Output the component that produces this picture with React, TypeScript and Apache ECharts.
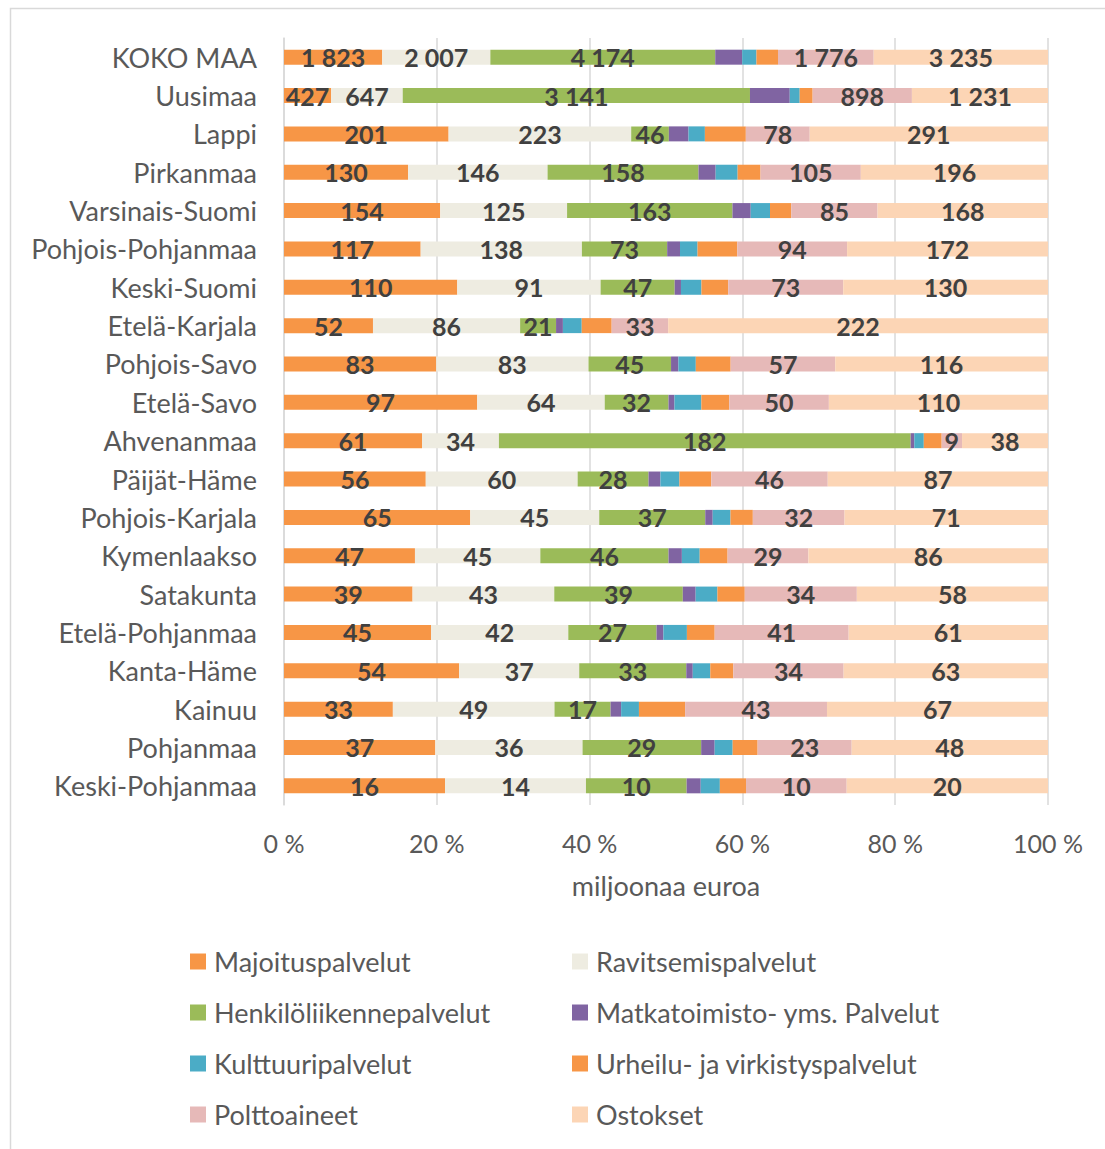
import React, { useEffect, useRef } from "react";
import * as echarts from "echarts";

const categories = [
  "KOKO MAA", "Uusimaa", "Lappi", "Pirkanmaa", "Varsinais-Suomi", "Pohjois-Pohjanmaa",
  "Keski-Suomi", "Etelä-Karjala", "Pohjois-Savo", "Etelä-Savo", "Ahvenanmaa", "Päijät-Häme",
  "Pohjois-Karjala", "Kymenlaakso", "Satakunta", "Etelä-Pohjanmaa", "Kanta-Häme", "Kainuu",
  "Pohjanmaa", "Keski-Pohjanmaa",
];

const seriesNames = [
  "Majoituspalvelut", "Ravitsemispalvelut", "Henkilöliikennepalvelut", "Matkatoimisto- yms. Palvelut",
  "Kulttuuripalvelut", "Urheilu- ja virkistyspalvelut", "Polttoaineet", "Ostokset",
];

const majoitus = [1823, 427, 201, 130, 154, 117, 110, 52, 83, 97, 61, 56, 65, 47, 39, 45, 54, 33, 37, 16];
const ravitsemis = [2007, 647, 223, 146, 125, 138, 91, 86, 83, 64, 34, 60, 45, 45, 43, 42, 37, 49, 36, 14];
const henkiloliikenne = [4174, 3141, 46, 158, 163, 73, 47, 21, 45, 32, 182, 28, 37, 46, 39, 27, 33, 17, 29, 10];
const matkatoimisto = [500, 360, 24, 18, 18, 11, 4, 4, 4, 3, 1.6, 4.7, 2.6, 4.8, 3.9, 2.1, 2.0, 3.2, 3.3, 1.4];
const kulttuuri = [265, 90, 20, 23, 19, 15, 13, 11, 9.5, 13.5, 4.2, 7.5, 6.2, 6.4, 6.6, 7.2, 5.4, 5.4, 4.4, 1.9];
const urheilu = [400, 117, 50, 24, 21, 34, 17, 17.5, 19, 14, 7.9, 12.6, 7.8, 10, 8.3, 8.5, 7.1, 14, 6.1, 2.6];
const polttoaineet = [1776, 898, 78, 105, 85, 94, 73, 33, 57, 50, 9, 46, 32, 29, 34, 41, 34, 43, 23, 10];
const ostokset = [3235, 1231, 291, 196, 168, 172, 130, 222, 116, 110, 38, 87, 71, 86, 58, 61, 63, 67, 48, 20];

const xTicks = [0, 20, 40, 60, 80, 100];

const allSeries = [majoitus, ravitsemis, henkiloliikenne, matkatoimisto, kulttuuri, urheilu, polttoaineet, ostokset];
const colors = ["#F79646", "#EEECE1", "#9BBB59", "#8064A2", "#4BACC6", "#F79646", "#E6B9B8", "#FCD5B5"];
const labelled = [true, true, true, false, false, false, true, true];

const FONT = "Lato, 'Open Sans', sans-serif";

function fmt(v: number): string {
  const s = String(Math.round(v));
  return s.replace(/\B(?=(\d{3})+(?!\d))/g, " ");
}

export default function App() {
  const ref = useRef<HTMLDivElement>(null);

  useEffect(() => {
    if (!ref.current) return;
    const chart = echarts.init(ref.current, undefined, { renderer: "svg" });

    const totals = categories.map((_, i) => allSeries.reduce((s, arr) => s + arr[i], 0));

    const series = allSeries.map((arr, k) => ({
      name: seriesNames[k],
      type: "bar",
      stack: "total",
      barWidth: 15,
      itemStyle: { color: colors[k] },
      label: {
        show: labelled[k],
        position: "inside",
        fontFamily: FONT,
        fontSize: 25,
        fontWeight: "bold",
        color: "#404040",
        formatter: (p: any) => fmt(arr[p.dataIndex]),
      },
      emphasis: { disabled: true },
      data: arr.map((v, i) => (v / totals[i]) * 100),
    }));

    const legendPos = seriesNames.map((name, k) => ({
      data: [name],
      left: k % 2 === 0 ? 190 : 572,
      top: 963 + Math.floor(k / 2) * 51 - 15,
      padding: 0,
      icon: "rect",
      itemWidth: 16,
      itemHeight: 16,
      itemGap: 0,
      selectedMode: false,
      textStyle: { fontFamily: FONT, fontSize: 27, color: "#595959", padding: [0, 0, 0, 3] },
    }));

    chart.setOption({
      animation: false,
      graphic: [
        {
          type: "rect",
          shape: { x: 10.5, y: 8.5, width: 1200, height: 1200 },
          style: { fill: "none", stroke: "#d9d9d9", lineWidth: 1.5 },
          silent: true,
        },
      ],
      legend: legendPos,
      grid: { left: 284, right: 57, top: 38, height: 767, containLabel: false },
      xAxis: {
        type: "value",
        min: xTicks[0],
        max: xTicks[xTicks.length - 1],
        interval: 20,
        axisLine: { show: false },
        axisTick: { show: false },
        splitLine: { show: true, lineStyle: { color: "#d9d9d9", width: 1.5 } },
        axisLabel: {
          fontFamily: FONT,
          fontSize: 25,
          color: "#595959",
          margin: 25,
          formatter: "{value} %",
        },
        name: "miljoonaa euroa",
        nameLocation: "middle",
        nameGap: 67,
        nameTextStyle: { fontFamily: FONT, fontSize: 27, color: "#595959" },
      },
      yAxis: {
        type: "category",
        data: categories,
        inverse: true,
        axisLine: { show: true, lineStyle: { color: "#d9d9d9", width: 1.5 } },
        axisTick: { show: false },
        axisLabel: { fontFamily: FONT, fontSize: 27, color: "#595959", margin: 27 },
      },
      series,
    });

    return () => chart.dispose();
  }, []);

  return (
    <div
      ref={ref}
      style={{ position: "absolute", left: 0, top: 0, width: 1105, height: 1149, background: "#fff" }}
    />
  );
}
